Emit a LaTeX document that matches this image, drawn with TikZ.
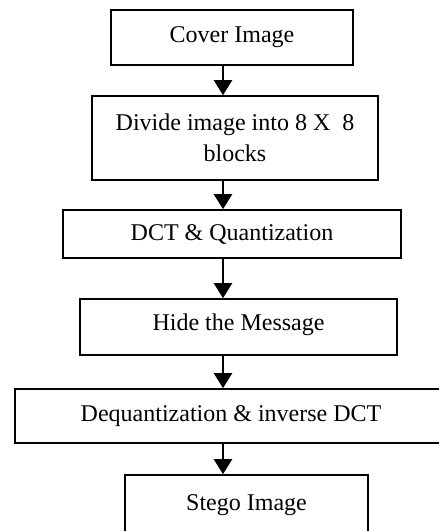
\documentclass[tikz,border=0pt]{standalone}
\usepackage{fontspec}
\setmainfont{Liberation Serif}
\usetikzlibrary{arrows.meta}
\tikzset{
  blok/.style={draw, line width=0.8pt, inner sep=0pt, align=center,
    font=\fontsize{12}{15.5}\selectfont},
  pijl/.style={-{Triangle[width=9pt,length=7.5pt]}, line width=1.1pt}
}
\begin{document}
\begin{tikzpicture}[x=0.5pt,y=-0.5pt]
	\clip (0,0) rectangle (439,531);
	\coordinate (spine) at (223,0);
	\node[blok, minimum width=121pt, minimum height=27.5pt] (cover) at (232,37.5) {Cover Image};
	\node[blok, minimum width=143pt, minimum height=42pt] (divide) at (235,138) {Divide image into 8 X~~8\\blocks};
	\node[blok, minimum width=169pt, minimum height=24pt] (dct) at (232,234) {DCT \& Quantization};
	\node[blok, minimum width=158.5pt, minimum height=28pt, text height=8.5pt, text depth=5.5pt] (hide) at (238.5,327) {Hide the Message};
	\node[blok, minimum width=216pt, minimum height=27pt] (idct) at (231,416) {Dequantization \& inverse DCT};
	\node[blok, minimum width=121.5pt, minimum height=34pt, text height=8.5pt, text depth=7pt] (stego) at (246.5,509) {Stego Image};
	\draw[pijl] (cover.south -| spine) -- (divide.north -| spine);
	\draw[pijl] (divide.south -| spine) -- (dct.north -| spine);
	\draw[pijl] (dct.south -| spine) -- (hide.north -| spine);
	\draw[pijl] (hide.south -| spine) -- (idct.north -| spine);
	\draw[pijl] (idct.south -| spine) -- (stego.north -| spine);
\end{tikzpicture}
\end{document}
